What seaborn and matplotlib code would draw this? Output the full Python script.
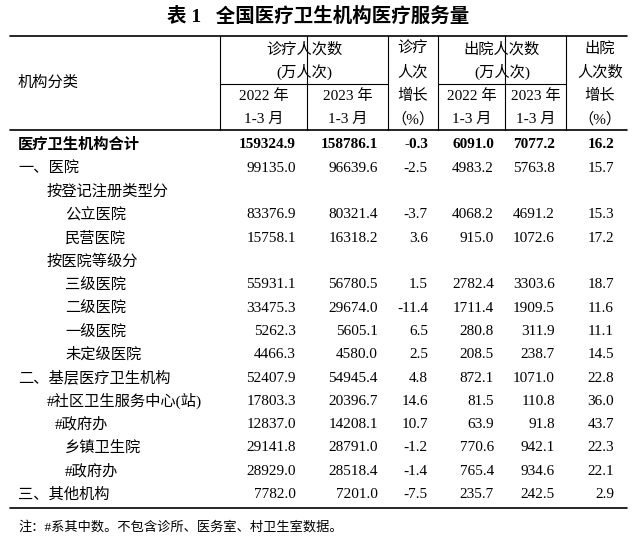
import matplotlib
matplotlib.use("Agg")
import matplotlib.pyplot as plt
import seaborn as sns

sns.set_theme(style="white")
plt.rcParams['font.family'] = ['Liberation Serif', 'Noto Sans CJK SC', 'DejaVu Sans']

categories = ["医疗卫生机构合计", "一、医院", "按登记注册类型分", "公立医院", "民营医院",
              "按医院等级分", "三级医院", "二级医院", "一级医院", "未定级医院",
              "二、基层医疗卫生机构", "#社区卫生服务中心(站)", "#政府办", "乡镇卫生院",
              "#政府办", "三、其他机构"]
indent = [0, 0, 29, 47, 47, 29, 47, 47, 47, 47, 0, 29, 37, 47, 47, 0]
visits_2022 = ["159324.9", "99135.0", "", "83376.9", "15758.1", "", "55931.1", "33475.3",
               "5262.3", "4466.3", "52407.9", "17803.3", "12837.0", "29141.8", "28929.0", "7782.0"]
visits_2023 = ["158786.1", "96639.6", "", "80321.4", "16318.2", "", "56780.5", "29674.0",
               "5605.1", "4580.0", "54945.4", "20396.7", "14208.1", "28791.0", "28518.4", "7201.0"]
visits_growth = ["-0.3", "-2.5", "", "-3.7", "3.6", "", "1.5", "-11.4", "6.5", "2.5",
                 "4.8", "14.6", "10.7", "-1.2", "-1.4", "-7.5"]
disch_2022 = ["6091.0", "4983.2", "", "4068.2", "915.0", "", "2782.4", "1711.4", "280.8",
              "208.5", "872.1", "81.5", "63.9", "770.6", "765.4", "235.7"]
disch_2023 = ["7077.2", "5763.8", "", "4691.2", "1072.6", "", "3303.6", "1909.5", "311.9",
              "238.7", "1071.0", "110.8", "91.8", "942.1", "934.6", "242.5"]
disch_growth = ["16.2", "15.7", "", "15.3", "17.2", "", "18.7", "11.6", "11.1", "14.5",
                "22.8", "36.0", "43.7", "22.3", "22.1", "2.9"]

fig = plt.figure(figsize=(6.37, 5.46), dpi=100)
ax = fig.add_axes([0, 0, 1, 1])
ax.set_xlim(0, 637); ax.set_ylim(546, 0); ax.axis("off")
fs = 11
k = dict(color="black", fontsize=fs)

ax.text(318, 16, "表 1   全国医疗卫生机构医疗服务量", ha="center", va="center",
        fontsize=14, fontweight="bold", color="black")

vx = [220, 307, 388, 438, 505, 566]
for y in (36, 130, 508):
    ax.plot([10, 627], [y, y], color="black", lw=1.2)
for x in vx:
    ax.plot([x, x], [36, 130], color="black", lw=0.8)
ax.plot([220, 388], [84, 84], color="black", lw=0.8)
ax.plot([438, 566], [84, 84], color="black", lw=0.8)

ax.text(18, 83, "机构分类", ha="left", va="center", **k)
ax.text(304, 49, "诊疗人次数", ha="center", va="center", **k)
ax.text(304, 72, "(万人次)", ha="center", va="center", **k)
ax.text(502, 49, "出院人次数", ha="center", va="center", **k)
ax.text(502, 72, "(万人次)", ha="center", va="center", **k)
for cx, yr in (((220 + 307) / 2, "2022 年"), ((307 + 388) / 2, "2023 年"),
               ((438 + 505) / 2, "2022 年"), ((505 + 566) / 2, "2023 年")):
    ax.text(cx, 96, yr, ha="center", va="center", **k)
    ax.text(cx, 119, "1-3 月", ha="center", va="center", **k)
for cx, lines in ((413, ["诊疗", "人次", "增长", "（%）"]), (600, ["出院", "人次数", "增长", "（%）"])):
    for i, t in enumerate(lines):
        ax.text(cx, 49 + i * 23.5, t, ha="center", va="center", **k)

cols = [(296, visits_2022), (378, visits_2023), (428, visits_growth),
        (494, disch_2022), (555, disch_2023), (614, disch_growth)]
for i, cat in enumerate(categories):
    y = 145 + i * 23.3
    w = "bold" if i == 0 else "normal"
    ax.text(18 + indent[i], y, cat, ha="left", va="center", fontweight=w, **k)
    for x, arr in cols:
        ax.text(x, y, arr[i], ha="right", va="center", fontweight=w, **k)

ax.text(18, 527, "注：#系其中数。不包含诊所、医务室、村卫生室数据。", ha="left", va="center",
        color="black", fontsize=9.5)

fig.savefig("out.png", dpi=100, facecolor="white")
